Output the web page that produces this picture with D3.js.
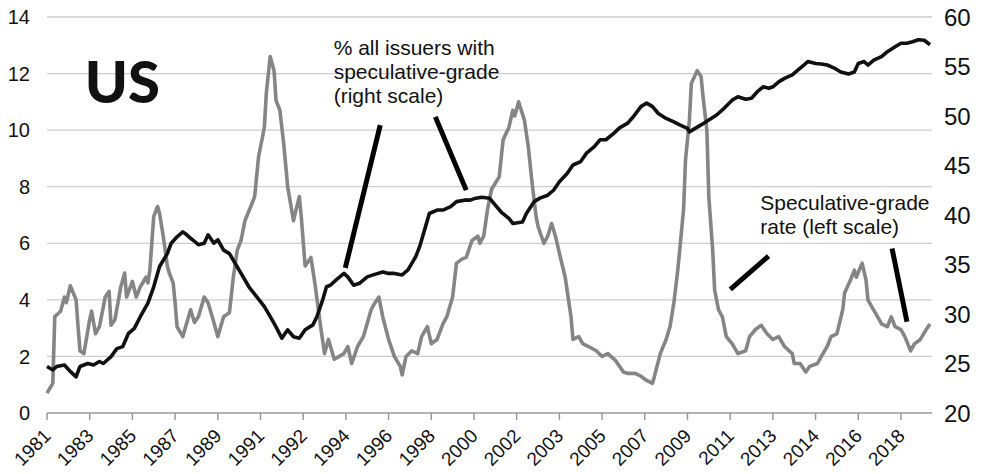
<!DOCTYPE html>
<html>
<head>
<meta charset="utf-8">
<script src="https://cdn.jsdelivr.net/npm/d3@7"></script>
<style>
	body { margin: 0; background: #fff; }
	text { font-family: "Liberation Sans", Arial, sans-serif; fill: #111; }
</style>
</head>
<body>
<svg id="chart" width="982" height="474"></svg>
<script>
// month index (0 = first month of 1981) and speculative-grade default rate, left scale
var rateMonth = [0, 3, 4, 7, 9, 10, 12, 15, 16, 17, 19, 21, 22, 23, 25, 27, 30, 32, 33, 35, 38, 40, 41, 44, 46, 48, 51, 52, 53, 55, 57, 58, 60, 62, 63, 65, 66, 67, 70, 71, 74, 76, 78, 81, 83, 86, 88, 91, 94, 96, 98, 100, 102, 105, 107, 109, 112, 113, 115, 117, 118, 120, 122, 124, 127, 130, 131, 133, 136, 138, 141, 143, 145, 148, 153, 155, 157, 160, 163, 167, 169, 171, 173, 176, 179, 182, 183, 185, 188, 191, 193, 196, 198, 201, 204, 206, 209, 211, 214, 216, 219, 222, 223, 225, 227, 229, 233, 235, 238, 240, 241, 243, 246, 248, 250, 252, 253, 256, 258, 260, 262, 264, 267, 270, 271, 274, 276, 279, 283, 286, 289, 293, 295, 297, 299, 303, 306, 309, 312, 313, 316, 319, 321, 323, 325, 326, 328, 329, 331, 332, 335, 337, 338, 340, 341, 343, 344, 346, 348, 350, 353, 356, 360, 362, 365, 368, 371, 374, 377, 380, 384, 385, 388, 391, 393, 397, 399, 402, 404, 407, 410, 411, 414, 416, 417, 420, 422, 423, 425, 428, 430, 433, 435, 437, 440, 442, 445, 447, 450, 453, 455];
var rateValue = [0.7, 1.05, 3.4, 3.6, 4.1, 3.9, 4.5, 4.0, 3.05, 2.2, 2.1, 2.9, 3.3, 3.6, 2.8, 3.05, 4.1, 4.3, 3.1, 3.3, 4.45, 4.95, 4.1, 4.65, 4.1, 4.45, 4.8, 4.6, 5.05, 6.95, 7.3, 7.05, 6.2, 5.2, 4.95, 4.6, 3.9, 3.05, 2.7, 2.95, 3.65, 3.2, 3.4, 4.1, 3.9, 3.2, 2.7, 3.4, 3.55, 4.8, 5.75, 6.1, 6.8, 7.3, 7.65, 9.05, 10.1, 11.3, 12.6, 12.1, 11.05, 10.7, 9.5, 8.0, 6.8, 7.65, 6.95, 5.2, 5.5, 4.6, 3.05, 2.1, 2.6, 1.9, 2.1, 2.35, 1.75, 2.35, 2.7, 3.65, 3.9, 4.1, 3.4, 2.6, 2.0, 1.65, 1.35, 2.0, 2.2, 2.1, 2.7, 3.05, 2.45, 2.6, 3.15, 3.4, 4.1, 5.3, 5.45, 5.5, 6.1, 6.25, 6.0, 6.25, 7.2, 7.9, 8.35, 9.65, 10.1, 10.7, 10.5, 11.0, 10.35, 9.4, 8.1, 6.95, 6.6, 6.0, 6.25, 6.7, 6.25, 5.65, 4.8, 3.4, 2.6, 2.7, 2.45, 2.35, 2.2, 2.0, 2.1, 1.85, 1.65, 1.45, 1.4, 1.4, 1.3, 1.15, 1.05, 1.3, 2.1, 2.6, 3.05, 3.9, 5.05, 5.75, 7.2, 8.95, 10.35, 11.65, 12.1, 11.9, 11.2, 10.0, 7.65, 5.75, 4.35, 3.65, 3.4, 2.7, 2.45, 2.1, 2.2, 2.7, 2.95, 3.1, 2.8, 2.6, 2.7, 2.35, 2.1, 1.75, 1.75, 1.45, 1.65, 1.75, 2.0, 2.35, 2.7, 2.8, 3.65, 4.25, 4.7, 5.05, 4.8, 5.3, 4.7, 4.0, 3.75, 3.4, 3.15, 3.05, 3.4, 3.05, 2.95, 2.7, 2.2, 2.45, 2.6, 2.95, 3.15];

// % of all issuers with speculative-grade rating, right scale
var shareMonth = [0, 3, 5, 9, 12, 15, 17, 21, 24, 27, 29, 33, 36, 39, 42, 45, 48, 52, 55, 58, 62, 64, 67, 70, 72, 73, 75, 78, 81, 83, 86, 88, 91, 94, 97, 100, 104, 108, 112, 116, 118, 121, 124, 127, 130, 133, 137, 139, 142, 144, 146, 149, 153, 155, 158, 161, 165, 168, 173, 176, 179, 183, 186, 190, 192, 195, 197, 201, 204, 208, 211, 215, 218, 221, 224, 228, 231, 234, 238, 240, 245, 247, 251, 254, 258, 261, 264, 268, 271, 275, 278, 282, 285, 288, 292, 295, 299, 302, 306, 309, 312, 315, 319, 323, 326, 330, 331, 334, 337, 341, 345, 349, 353, 356, 360, 363, 366, 369, 372, 374, 377, 380, 384, 387, 390, 392, 396, 399, 402, 406, 409, 413, 416, 418, 421, 423, 426, 430, 433, 437, 440, 443, 446, 449, 452, 455];
var shareValue = [24.7, 24.35, 24.7, 24.85, 24.2, 23.65, 24.7, 25.0, 24.85, 25.2, 25.0, 25.7, 26.5, 26.7, 28.05, 28.55, 29.7, 31.1, 32.75, 34.8, 36.1, 37.15, 37.8, 38.3, 38.0, 37.8, 37.5, 37.0, 37.15, 38.0, 37.15, 37.5, 36.45, 36.1, 35.1, 34.1, 32.75, 31.75, 30.75, 29.4, 28.7, 27.55, 28.4, 27.7, 27.55, 28.4, 28.9, 29.7, 31.4, 32.75, 32.9, 33.45, 34.1, 33.75, 32.9, 33.1, 33.75, 33.95, 34.25, 34.1, 34.1, 33.95, 34.45, 35.8, 36.8, 38.8, 40.15, 40.5, 40.5, 40.85, 41.35, 41.5, 41.5, 41.7, 41.8, 41.7, 41.0, 40.3, 39.65, 39.15, 39.3, 40.15, 41.35, 41.7, 42.0, 42.5, 43.35, 44.2, 45.05, 45.4, 46.25, 46.9, 47.6, 47.6, 48.25, 48.8, 49.25, 49.9, 50.95, 51.3, 50.95, 50.25, 49.75, 49.4, 49.1, 48.75, 48.4, 48.75, 49.1, 49.6, 50.1, 50.8, 51.6, 51.95, 51.7, 51.8, 52.45, 52.95, 52.8, 52.95, 53.45, 53.8, 54.15, 54.65, 55.15, 55.5, 55.3, 55.25, 55.15, 54.8, 54.45, 54.25, 54.45, 55.3, 55.5, 55.15, 55.65, 56.0, 56.5, 57.0, 57.35, 57.35, 57.5, 57.7, 57.65, 57.2];

var tickLabels = ["1981", "1983", "1985", "1987", "1989", "1991", "1992", "1994", "1996", "1998", "2000", "2002", "2003", "2005", "2007", "2009", "2011", "2013", "2014", "2016", "2018"];
var tickStep = 22; // months between labelled ticks
var lastMonth = 456;
var leftTicks = [0, 2, 4, 6, 8, 10, 12, 14];
var rightTicks = [20, 25, 30, 35, 40, 45, 50, 55, 60];

var svg = d3.select("#chart"),
	margin = {top: 17, right: 50, bottom: 61, left: 47},
	width = +svg.attr("width") - margin.left - margin.right,
	height = +svg.attr("height") - margin.top - margin.bottom;

var x = d3.scaleLinear().domain([0, lastMonth]).range([0, width]);
var yLeft = d3.scaleLinear().domain([0, 14]).range([height, 0]);
var yRight = d3.scaleLinear().domain([20, 60]).range([height, 0]);

var g = svg.append("g")
	.attr("transform", "translate(" + margin.left + "," + margin.top + ")");

// gridlines from left scale
g.append("g")
	.selectAll("line")
	.data(leftTicks.filter(function(d) { return d > 0; }))
	.enter().append("line")
	.attr("x1", 0)
	.attr("x2", width)
	.attr("y1", function(d) { return yLeft(d); })
	.attr("y2", function(d) { return yLeft(d); })
	.attr("stroke", "#cdcdcd")
	.attr("stroke-width", 1.3);

// left axis labels
g.append("g")
	.selectAll("text")
	.data(leftTicks)
	.enter().append("text")
	.attr("x", -17)
	.attr("y", function(d) { return yLeft(d); })
	.attr("dy", "0.36em")
	.attr("text-anchor", "end")
	.style("font-size", "20px")
	.text(function(d) { return d; });

// right axis labels
g.append("g")
	.selectAll("text")
	.data(rightTicks)
	.enter().append("text")
	.attr("x", width + 12)
	.attr("y", function(d) { return yRight(d); })
	.attr("dy", "0.36em")
	.attr("text-anchor", "start")
	.style("font-size", "24px")
	.text(function(d) { return d; });

// x axis
var tickMonths = tickLabels.map(function(d, i) { return i * tickStep; });
var xAxis = g.append("g")
	.attr("transform", "translate(0," + height + ")");
xAxis.append("line")
	.attr("x1", 0).attr("x2", width)
	.attr("stroke", "#9a9a9a").attr("stroke-width", 1.5);
xAxis.selectAll(".tick")
	.data(tickMonths)
	.enter().append("line")
	.attr("class", "tick")
	.attr("x1", function(d) { return x(d); })
	.attr("x2", function(d) { return x(d); })
	.attr("y1", 0).attr("y2", 7)
	.attr("stroke", "#9a9a9a").attr("stroke-width", 1.5);
xAxis.selectAll(".xlabel")
	.data(tickMonths)
	.enter().append("text")
	.attr("class", "xlabel")
	.attr("text-anchor", "end")
	.attr("transform", function(d) { return "translate(" + (x(d) + 5) + ",24) rotate(-45)"; })
	.style("font-size", "19px")
	.text(function(d, i) { return tickLabels[i]; });

// series
var rateData = rateMonth.map(function(m, i) { return {m: m, v: rateValue[i]}; });
var shareData = shareMonth.map(function(m, i) { return {m: m, v: shareValue[i]}; });

var rateLine = d3.line()
	.x(function(d) { return x(d.m); })
	.y(function(d) { return yLeft(d.v); });
var shareLine = d3.line()
	.x(function(d) { return x(d.m); })
	.y(function(d) { return yRight(d.v); });

g.append("path")
	.datum(rateData)
	.attr("fill", "none")
	.attr("stroke", "#858585")
	.attr("stroke-width", 3.6)
	.attr("stroke-linejoin", "round")
	.attr("d", rateLine);

g.append("path")
	.datum(shareData)
	.attr("fill", "none")
	.attr("stroke", "#111")
	.attr("stroke-width", 3.6)
	.attr("stroke-linejoin", "round")
	.attr("d", shareLine);

// annotations (positions in month / left-scale units)
var pointers = [
	[[171.7, 10.18], [153.7, 5.13]],
	[[200.1, 10.47], [216.0, 7.88]],
	[[352.1, 4.37], [371.8, 5.55]],
	[[435.4, 5.82], [443.1, 3.23]]
];
g.append("g")
	.selectAll("line")
	.data(pointers)
	.enter().append("line")
	.attr("x1", function(d) { return x(d[0][0]); })
	.attr("y1", function(d) { return yLeft(d[0][1]); })
	.attr("x2", function(d) { return x(d[1][0]); })
	.attr("y2", function(d) { return yLeft(d[1][1]); })
	.attr("stroke", "#000")
	.attr("stroke-width", 5);

var noteShare = ["% all issuers with", "speculative-grade", "(right scale)"];
var noteRate = ["Speculative-grade", "rate (left scale)"];

g.append("text")
	.attr("x", x(147.7))
	.attr("y", yLeft(12.65))
	.style("font-size", "21px")
	.selectAll("tspan")
	.data(noteShare)
	.enter().append("tspan")
	.attr("x", x(147.7))
	.attr("dy", function(d, i) { return i == 0 ? 0 : 24; })
	.text(function(d) { return d; });

g.append("text")
	.attr("x", x(367.5))
	.attr("y", yLeft(7.18))
	.style("font-size", "21px")
	.selectAll("tspan")
	.data(noteRate)
	.enter().append("tspan")
	.attr("x", x(367.5))
	.attr("dy", function(d, i) { return i == 0 ? 0 : 24; })
	.text(function(d) { return d; });

g.append("text")
	.attr("x", x(19.5))
	.attr("y", yLeft(10.95))
	.style("font-family", "Lato, sans-serif")
	.style("font-weight", "900")
	.style("font-size", "58px")
	.text("US");
</script>
</body>
</html>
